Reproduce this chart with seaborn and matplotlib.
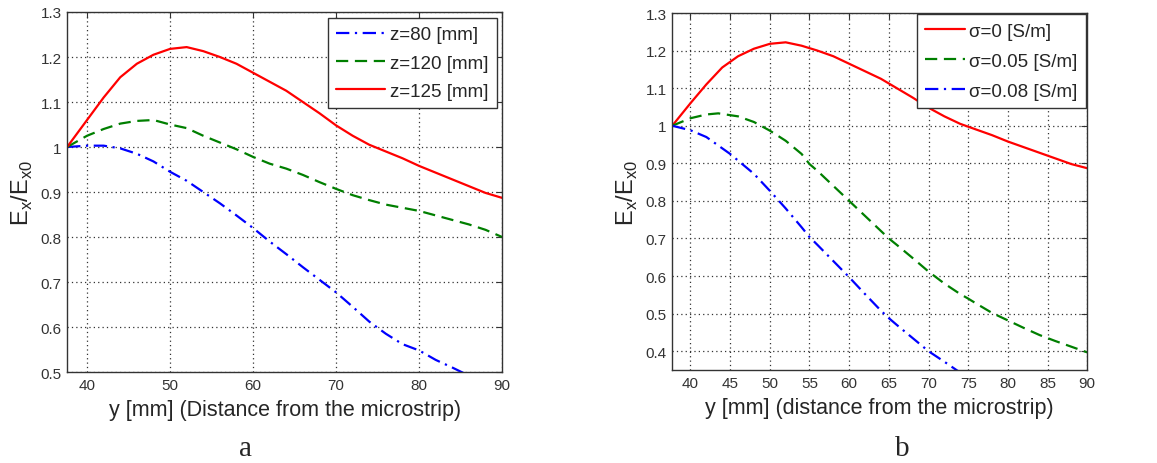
import matplotlib
matplotlib.use("Agg")
import matplotlib.pyplot as plt
import seaborn as sns
import pandas as pd

# ---- Panel a data ----
a_x_red = [37.6, 40, 42, 44, 46, 48, 50, 52, 54, 56, 58, 60, 62, 64, 66, 68, 70, 72, 74, 76, 78, 80, 82, 84, 86, 88, 90]
a_red = [1.0, 1.06, 1.11, 1.155, 1.185, 1.205, 1.218, 1.222, 1.213, 1.2, 1.185, 1.165, 1.145, 1.125, 1.1, 1.075,
         1.048, 1.025, 1.005, 0.99, 0.975, 0.958, 0.943, 0.928, 0.913, 0.898, 0.887]
a_x_green = [37.6, 40, 42, 44, 46, 48, 50, 52, 54, 56, 58, 60, 62, 64, 66, 68, 70, 72, 74, 76, 78, 80, 82, 84, 86, 88, 90]
a_green = [1.0, 1.025, 1.04, 1.052, 1.058, 1.06, 1.05, 1.042, 1.025, 1.01, 0.995, 0.978, 0.963, 0.952, 0.938, 0.922,
           0.907, 0.893, 0.882, 0.872, 0.865, 0.858, 0.848, 0.838, 0.828, 0.816, 0.8]
a_x_blue = [37.6, 40, 42, 44, 46, 48, 50, 52, 54, 56, 58, 60, 62, 64, 66, 68, 70, 72, 74, 76, 78, 80, 82, 84, 86, 88]
a_blue = [1.0, 1.003, 1.003, 0.997, 0.985, 0.968, 0.945, 0.925, 0.9, 0.875, 0.848, 0.82, 0.79, 0.762, 0.733, 0.705,
          0.677, 0.645, 0.612, 0.585, 0.562, 0.548, 0.527, 0.51, 0.492, 0.472]
a_labels = ["z=80 [mm]", "z=120 [mm]", "z=125 [mm]"]

# ---- Panel b data ----
b_x_red = [37.7, 40, 42, 44, 46, 48, 50, 52, 54, 56, 58, 60, 62, 64, 66, 68, 70, 72, 74, 76, 78, 80, 82, 84, 86, 88, 90]
b_red = [1.0, 1.06, 1.11, 1.155, 1.185, 1.205, 1.218, 1.222, 1.213, 1.2, 1.185, 1.165, 1.145, 1.125, 1.1, 1.075,
         1.048, 1.025, 1.005, 0.99, 0.975, 0.958, 0.943, 0.928, 0.913, 0.898, 0.887]
b_x_green = [37.7, 40, 42, 43.5, 46, 48, 50, 52, 54, 55, 56, 58, 60, 62, 64, 65, 66, 68, 70, 72, 74, 75, 76, 78, 80,
             82, 84, 86, 88, 90]
b_green = [1.0, 1.02, 1.03, 1.033, 1.025, 1.01, 0.987, 0.96, 0.925, 0.898, 0.88, 0.84, 0.8, 0.76, 0.72, 0.7, 0.683,
           0.648, 0.612, 0.58, 0.552, 0.54, 0.527, 0.502, 0.482, 0.462, 0.443, 0.427, 0.412, 0.397]
b_x_blue = [37.7, 40, 42, 45, 48, 50, 52, 54, 55, 56, 58, 60, 62, 64, 65, 66, 68, 70, 72, 74]
b_blue = [1.0, 0.988, 0.97, 0.925, 0.872, 0.827, 0.78, 0.73, 0.704, 0.683, 0.64, 0.597, 0.552, 0.508, 0.488, 0.47,
          0.435, 0.4, 0.372, 0.343]
b_labels = ["σ=0 [S/m]", "σ=0.05 [S/m]", "σ=0.08 [S/m]"]

sns.set_style("white")
plt.rcParams["font.family"] = ["Liberation Sans", "DejaVu Sans"]
plt.rcParams["mathtext.fontset"] = "custom"
plt.rcParams["mathtext.rm"] = "Liberation Sans"

fig = plt.figure(figsize=(11.57, 4.64), dpi=100)
ax1 = fig.add_axes([0.058, 0.196, 0.376, 0.776])
ax2 = fig.add_axes([0.581, 0.2004, 0.3587, 0.7694])

RED, GREEN, BLUE = "#ff0000", "#007f00", "#0000ff"
DASH = (0, (5.5, 3))
DASHDOT = (0, (6, 2.5, 1, 2.5))


def draw(ax, x, y, color, ls, label):
    df = pd.DataFrame({"x": x, "y": y})
    sns.lineplot(data=df, x="x", y="y", ax=ax, color=color, linestyle=ls, linewidth=1.6,
                 label=label, sort=False, estimator=None)


draw(ax1, a_x_blue, a_blue, BLUE, DASHDOT, a_labels[0])
draw(ax1, a_x_green, a_green, GREEN, DASH, a_labels[1])
draw(ax1, a_x_red, a_red, RED, "-", a_labels[2])

draw(ax2, b_x_red, b_red, RED, "-", b_labels[0])
draw(ax2, b_x_green, b_green, GREEN, DASH, b_labels[1])
draw(ax2, b_x_blue, b_blue, BLUE, DASHDOT, b_labels[2])

ax1.set_xlim(37.6, 90)
ax1.set_ylim(0.5, 1.3)
ax1.set_xticks([40, 50, 60, 70, 80, 90])
ax1.set_yticks([0.5, 0.6, 0.7, 0.8, 0.9, 1.0, 1.1, 1.2, 1.3])
ax1.set_yticklabels(["0.5", "0.6", "0.7", "0.8", "0.9", "1", "1.1", "1.2", "1.3"])

ax2.set_xlim(37.7, 90)
ax2.set_ylim(0.35, 1.3)
ax2.set_xticks([40, 45, 50, 55, 60, 65, 70, 75, 80, 85, 90])
ax2.set_yticks([0.4, 0.5, 0.6, 0.7, 0.8, 0.9, 1.0, 1.1, 1.2, 1.3])
ax2.set_yticklabels(["0.4", "0.5", "0.6", "0.7", "0.8", "0.9", "1", "1.1", "1.2", "1.3"])

ylab = r"E$_\mathregular{x}$/E$_\mathregular{x0}$"
ax1.set_xlabel("y [mm] (Distance from the microstrip)", fontsize=15.5, labelpad=5)
ax2.set_xlabel("y [mm] (distance from the microstrip)", fontsize=15.5, labelpad=5)
for ax, hl, ls, bap in ((ax1, 2.6, 0.6, 0.3), (ax2, 2.1, 0.7, 0.05)):
    ax.set_ylabel(ylab, fontsize=17, labelpad=4)
    ax.grid(True, linestyle=(0, (1, 2.5)), color="#333333", linewidth=0.9)
    ax.tick_params(axis="both", direction="in", length=4, width=0.8, labelsize=11,
                   labelcolor="#333333", color="#333333", top=True, right=True, pad=4)
    for sp in ax.spines.values():
        sp.set_color("#333333")
        sp.set_linewidth(1.0)
    leg = ax.legend(loc="upper right", fontsize=13.5, frameon=True, fancybox=False, framealpha=1,
                    edgecolor="#333333", borderaxespad=bap, handlelength=hl, handletextpad=0.25,
                    labelspacing=ls, borderpad=0.45)
    leg.get_frame().set_linewidth(1.0)

fig.text(0.2125, 0.018, "a", fontsize=21, family="Liberation Serif", ha="center")
fig.text(0.78, 0.018, "b", fontsize=21, family="Liberation Serif", ha="center")

fig.savefig("out.png", dpi=100)
